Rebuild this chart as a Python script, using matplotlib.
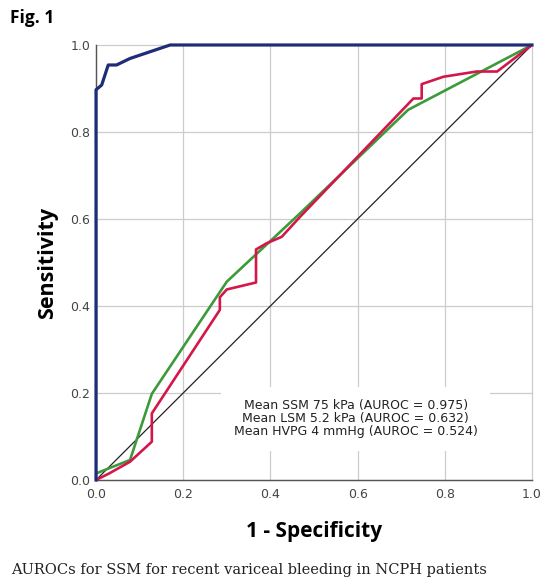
import numpy as np
import matplotlib
matplotlib.use("Agg")
import matplotlib.pyplot as plt

# ROC curve points (1 - specificity, sensitivity)
ssm_fpr = [0.0, 0.0, 0.013, 0.028, 0.047, 0.078, 0.17, 1.0]
ssm_tpr = [0.0, 0.897, 0.908, 0.954, 0.954, 0.969, 1.0, 1.0]

lsm_fpr = [0.0, 0.03, 0.078, 0.128, 0.128, 0.284, 0.284, 0.30, 0.367, 0.367,
           0.391, 0.426, 0.468, 0.728, 0.747, 0.747, 0.797, 0.873, 0.920, 1.0]
lsm_tpr = [0.0, 0.015, 0.042, 0.088, 0.153, 0.391, 0.42, 0.438, 0.454, 0.530,
           0.544, 0.559, 0.605, 0.877, 0.877, 0.910, 0.927, 0.939, 0.939, 1.0]

hvpg_fpr = [0.0, 0.03, 0.078, 0.128, 0.30, 0.468, 0.716, 1.0]
hvpg_tpr = [0.015, 0.027, 0.046, 0.198, 0.456, 0.613, 0.851, 1.0]

legend_lines = [
    "Mean SSM 75 kPa (AUROC = 0.975)",
    "Mean LSM 5.2 kPa (AUROC = 0.632)",
    "Mean HVPG 4 mmHg (AUROC = 0.524)",
]
ticks = [0.0, 0.2, 0.4, 0.6, 0.8, 1.0]

fig = plt.figure(figsize=(5.49, 5.85), dpi=100)
ax = fig.add_axes([0.1749, 0.1795, 0.7941, 0.7436])

ax.plot([0, 1], [0, 1], color="#222222", lw=0.9, zorder=3)
ax.plot(hvpg_fpr, hvpg_tpr, color="#3d9a3a", lw=1.9, zorder=4)
ax.plot(lsm_fpr, lsm_tpr, color="#d4174b", lw=1.9, zorder=4)
ax.plot(ssm_fpr, ssm_tpr, color="#1d2d78", lw=2.3, zorder=5, clip_on=False)

ax.set_xlim(0, 1)
ax.set_ylim(0, 1)
ax.set_xticks(ticks)
ax.set_yticks(ticks)
ax.set_xticklabels([f"{t:.1f}" for t in ticks])
ax.set_yticklabels([f"{t:.1f}" for t in ticks])
ax.tick_params(length=0, labelsize=9, colors="#444444")
ax.tick_params(axis="x", pad=6)
ax.tick_params(axis="y", pad=4)
ax.grid(True, color="#cccccc", lw=0.9)
for gl in ax.get_xgridlines() + ax.get_ygridlines():
    gl.set_clip_on(False)
ax.set_axisbelow(True)
for s in ["top", "right"]:
    ax.spines[s].set_visible(False)
for s in ["left", "bottom"]:
    ax.spines[s].set_color("#555555")
    ax.spines[s].set_linewidth(1.0)

ax.text(0.596, 0.141, "\n".join(legend_lines), ha="center", va="center",
        fontsize=9, color="#222222", linespacing=1.0, zorder=2,
        bbox=dict(boxstyle="square,pad=1.0", fc="white", ec="none"))

ax.set_xlabel("1 - Specificity", fontsize=15, fontweight="bold",
              family="Open Sans", labelpad=14)
ax.set_ylabel("Sensitivity", fontsize=15.5, fontweight="bold",
              family="Open Sans", labelpad=9)

fig.text(0.018, 0.97, "Fig. 1", fontsize=12.5, fontweight="bold",
         family="Open Sans", va="center")
fig.text(0.02, 0.026, "AUROCs for SSM for recent variceal bleeding in NCPH patients",
         fontsize=10.5, family="DejaVu Serif", color="#222222", va="center")

fig.savefig("out.png", dpi=100)
